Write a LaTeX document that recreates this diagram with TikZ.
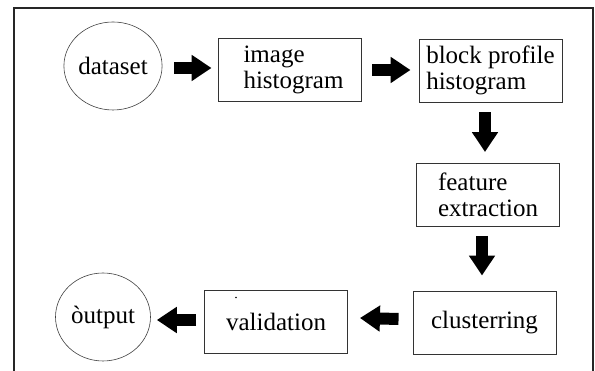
\documentclass[tikz,border=0pt]{standalone}
\usepackage{fontspec}
\setmainfont{Liberation Serif}
\usetikzlibrary{arrows.meta,shapes.geometric,calc}

\tikzset{
  block/.style={draw=black!80, line width=0.9pt, minimum width=143pt,
    minimum height=63pt, inner sep=0pt, align=left},
  blob/.style={ellipse, draw=black!75, line width=0.6pt, minimum width=95pt,
    minimum height=88pt, inner sep=0pt},
  fat/.style={line width=12pt, -{Triangle[length=20pt,width=25pt]}}
}

\begin{document}
\begin{tikzpicture}[x=1pt, y=1pt, font=\fontsize{25}{26}\selectfont]
  \useasboundingbox (0,0) rectangle (595,371);

  % Frame (open at the bottom)
  \draw[line width=1.6pt, black!85] (14,-5) -- (14,363) -- (593,363) -- (593,-5);

  % Top row
  \node[blob] (dataset) at (113,305) {dataset};
  \node[block] (imghist) at (289.5,301.5) {\hspace*{8pt}image\\\hspace*{8pt}histogram};
  \node[block] (blockprof) at (490.5,300.5) {block profile\\histogram};

  % Right column
  \node[block] (feature) at (488,176) {feature\\extraction};
  \node[block] (cluster) at (484.5,48.5) {clusterring};

  % Bottom row
  \node[block] (valid) at (276,49.5) {validation};
  \node[blob] (output) at (103,54) {òutput};
  \fill (236,73.5) circle (0.9pt);

  % Arrows
  \draw[fat] ($(dataset.east)+(12,-2)$) -- ($(imghist.west)+(-6,1.5)$);
  \draw[fat] ($(imghist.east)+(11,-0.5)$) -- ($(blockprof.west)+(-8,0.5)$);
  \draw[fat] ($(blockprof.south)+(-5.5,-10)$) -- ($(feature.north)+(-3,11)$);
  \draw[fat] ($(feature.south)+(-6,-9)$) -- ($(cluster.north)+(-2.5,15)$);
  \draw[fat] ($(cluster.west)+(-14,3.5)$) -- ($(valid.east)+(12,3.5)$);
  \draw[fat] ($(valid.west)+(-8,1.5)$) -- ($(output.east)+(6,-3)$);
\end{tikzpicture}
\end{document}
